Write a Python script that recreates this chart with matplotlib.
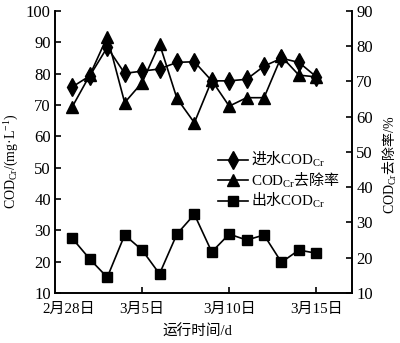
import numpy as np
import matplotlib
matplotlib.use("Agg")
import matplotlib.pyplot as plt
from matplotlib.font_manager import FontProperties

plt.rcParams['font.family'] = ['Liberation Serif', 'Noto Sans CJK SC']
plt.rcParams['mathtext.fontset'] = 'custom'
plt.rcParams['mathtext.rm'] = 'Liberation Serif'
plt.rcParams['mathtext.it'] = 'Liberation Serif:italic'
plt.rcParams['axes.linewidth'] = 1.2

# run day (2/28 = 0) and measured values
days = np.arange(1, 16)
inflow_cod = [75.8, 79.3, 88.4, 80.1, 80.8, 81.5, 83.6, 83.8, 77.7, 77.7, 78.2, 82.4, 84.9, 83.6, 79.0]
removal_rate = [62.9, 71.8, 82.7, 64.0, 69.7, 80.7, 65.2, 58.3, 70.3, 63.0, 65.4, 65.4, 77.1, 71.8, 71.3]
outflow_cod = [27.4, 20.8, 15.0, 28.5, 23.7, 16.1, 28.8, 35.1, 23.1, 28.8, 26.9, 28.5, 19.8, 23.7, 22.7]

# first date label is pushed off the spine, so its tick mark is hidden below
xtick_pos = [0.8, 5, 10, 15]
xtick_labels = ['2月28日', '3月5日', '3月10日', '3月15日']

cjk = FontProperties(family='Noto Sans CJK SC', size=10.8)

fig = plt.figure(figsize=(4, 3.43), dpi=100)
ax = fig.add_axes([0.1375, 0.1458, 0.7425, 0.8222])
ax2 = ax.twinx()

l1, = ax.plot(days, inflow_cod, color='black', lw=1.2, marker='d', ms=9, label='进水$\\mathrm{COD_{Cr}}$')
l3, = ax.plot(days, outflow_cod, color='black', lw=1.2, marker='s', ms=7, label='出水$\\mathrm{COD_{Cr}}$')
l2, = ax2.plot(days, removal_rate, color='black', lw=1.2, marker='^', ms=9, label='$\\mathrm{COD_{Cr}}$去除率')

ax.set_xlim(0, 17.05)
ax.set_ylim(10, 100)
ax2.set_ylim(10, 90)
ax.set_yticks(np.arange(10, 101, 10))
ax2.set_yticks(np.arange(10, 91, 10))
ax.set_xticks(xtick_pos)
ax.set_xticklabels(xtick_labels)

for a in (ax, ax2):
    a.spines['top'].set_visible(False)
    a.tick_params(direction='in', length=4.5, width=1.2, labelsize=12, pad=3)
ax.tick_params(axis='x', pad=7, labelsize=10.8)
ax.xaxis.get_major_ticks()[0].tick1line.set_visible(False)

ax.set_ylabel('COD$_{\\mathrm{Cr}}$/(mg·L$^{-1}$)', fontsize=10, va='center')
ax.yaxis.set_label_coords(-0.145, 0.468)
ax2.set_ylabel('$\\mathrm{COD_{Cr}}$去除率$\\mathrm{/\\%}$',
               fontproperties=FontProperties(family='Noto Sans CJK SC', size=10), va='center')
ax2.yaxis.set_label_coords(1.128, 0.454)
ax.set_xlabel('运行时间/d', fontsize=10.5, va='center')
ax.xaxis.set_label_coords(0.48, -0.136)

ax2.legend(handles=[l1, l2, l3], prop=cjk, frameon=False, loc='center left',
           bbox_to_anchor=(0.53, 0.40), handlelength=2.0, handletextpad=0.2,
           labelspacing=0.1, borderaxespad=0)

fig.savefig('out.png', dpi=100)
